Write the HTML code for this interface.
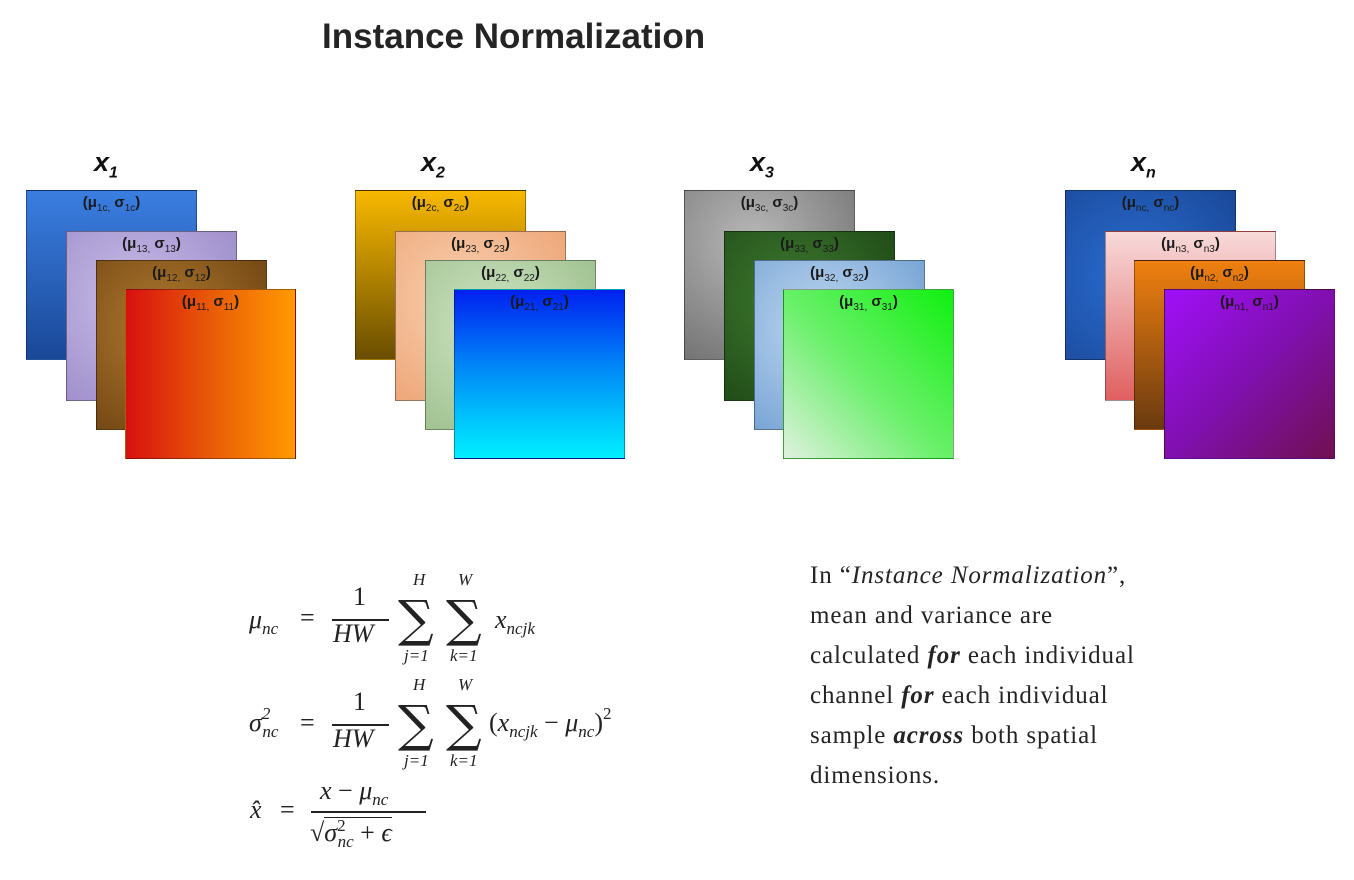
<!DOCTYPE html>
<html><head><meta charset="utf-8"><style>
body{margin:0;width:1354px;height:880px;background:#fff;position:relative;overflow:hidden;font-family:"Liberation Sans",sans-serif}
.a{position:absolute;white-space:nowrap}
.sq{position:absolute;width:171px;height:170px;box-sizing:border-box;border:1px solid rgba(0,0,0,.35)}
.lb{position:absolute;left:0;right:0;top:3px;text-align:center;font-weight:bold;font-size:15px;color:#1a1a1a;font-family:"Liberation Sans",sans-serif}
.lb sub{font-size:10px;font-weight:normal}
.xl{position:absolute;font-weight:bold;font-style:italic;font-size:27px;color:#111}
.xl sub{font-size:16px}
.m{position:absolute;font-family:"Liberation Serif",serif;font-size:26px;color:#222;white-space:nowrap}
.i{font-style:italic}
.s{font-size:17px}
.d{position:relative;top:6px}
.sig{position:absolute;font-family:"DejaVu Serif",serif;font-size:50px;color:#222;line-height:1}
.hr{position:absolute;height:1.5px;background:#222}
.txt{position:absolute;left:810px;font-family:"Liberation Serif",serif;font-size:25px;letter-spacing:0.9px;color:#242424;white-space:nowrap}
</style></head><body>
<div class="a" style="left:322px;top:17px;font-size:35px;font-weight:bold;color:#242424">Instance Normalization</div>

<!-- stack 1 -->
<div class="xl" style="left:94px;top:147px">x<sub>1</sub></div>
<div class="sq" style="left:26px;top:190px;background:linear-gradient(#3a7ee0,#1a4898)"><div class="lb">(μ<sub>1c,</sub> σ<sub>1c</sub>)</div></div>
<div class="sq" style="left:66px;top:231px;background:radial-gradient(circle at 40% 40%,#c8bce6,#9a88c8)"><div class="lb">(μ<sub>13,</sub> σ<sub>13</sub>)</div></div>
<div class="sq" style="left:96px;top:260px;background:radial-gradient(circle at 40% 40%,#b07a30,#6a4010)"><div class="lb">(μ<sub>12,</sub> σ<sub>12</sub>)</div></div>
<div class="sq" style="left:125px;top:289px;background:linear-gradient(90deg,#d81010,#e85a08,#ff9a00)"><div class="lb">(μ<sub>11,</sub> σ<sub>11</sub>)</div></div>

<!-- stack 2 -->
<div class="xl" style="left:421px;top:147px">x<sub>2</sub></div>
<div class="sq" style="left:355px;top:190px;background:linear-gradient(#f8b800,#6a4e00)"><div class="lb">(μ<sub>2c,</sub> σ<sub>2c</sub>)</div></div>
<div class="sq" style="left:395px;top:231px;background:radial-gradient(circle at 40% 40%,#f8d0b0,#eca070)"><div class="lb">(μ<sub>23,</sub> σ<sub>23</sub>)</div></div>
<div class="sq" style="left:425px;top:260px;background:radial-gradient(circle at 40% 40%,#d0e4c4,#98bc88)"><div class="lb">(μ<sub>22,</sub> σ<sub>22</sub>)</div></div>
<div class="sq" style="left:454px;top:289px;background:linear-gradient(#0020f0,#0090f8,#00f0ff)"><div class="lb">(μ<sub>21,</sub> σ<sub>21</sub>)</div></div>

<!-- stack 3 -->
<div class="xl" style="left:750px;top:147px">x<sub>3</sub></div>
<div class="sq" style="left:684px;top:190px;background:radial-gradient(circle at 40% 30%,#b8b8b8,#6a6a6a)"><div class="lb">(μ<sub>3c,</sub> σ<sub>3c</sub>)</div></div>
<div class="sq" style="left:724px;top:231px;background:radial-gradient(circle at 40% 40%,#3e7a30,#1c4414)"><div class="lb">(μ<sub>33,</sub> σ<sub>33</sub>)</div></div>
<div class="sq" style="left:754px;top:260px;background:radial-gradient(circle at 40% 40%,#c0d8f0,#6c9cd0)"><div class="lb">(μ<sub>32,</sub> σ<sub>32</sub>)</div></div>
<div class="sq" style="left:783px;top:289px;background:linear-gradient(45deg,#e0f0e0,#70f070 45%,#10f010)"><div class="lb">(μ<sub>31,</sub> σ<sub>31</sub>)</div></div>

<!-- stack n -->
<div class="xl" style="left:1131px;top:147px">x<sub>n</sub></div>
<div class="sq" style="left:1065px;top:190px;background:radial-gradient(circle at 40% 50%,#2a6cd0,#1a4898)"><div class="lb">(μ<sub>nc,</sub> σ<sub>nc</sub>)</div></div>
<div class="sq" style="left:1105px;top:231px;background:linear-gradient(#f8dada,#e06060)"><div class="lb">(μ<sub>n3,</sub> σ<sub>n3</sub>)</div></div>
<div class="sq" style="left:1134px;top:260px;background:linear-gradient(#f08010,#6a3a10)"><div class="lb">(μ<sub>n2,</sub> σ<sub>n2</sub>)</div></div>
<div class="sq" style="left:1164px;top:289px;background:linear-gradient(135deg,#a010f8,#8010b0 50%,#701050)"><div class="lb">(μ<sub>n1,</sub> σ<sub>n1</sub>)</div></div>

<!-- formula 1 -->
<div class="m i" style="left:249px;top:605px">μ<span class="s d">nc</span></div>
<div class="m" style="left:300px;top:603px">=</div>
<div class="m" style="left:353px;top:582px">1</div>
<div class="hr" style="left:332px;top:619px;width:57px"></div>
<div class="m i" style="left:333px;top:619px">HW</div>
<div class="m i s" style="left:413px;top:570px">H</div>
<div class="sig" style="left:398px;top:594px">∑</div>
<div class="m i s" style="left:404px;top:646px">j=1</div>
<div class="m i s" style="left:458px;top:570px">W</div>
<div class="sig" style="left:446px;top:594px">∑</div>
<div class="m i s" style="left:450px;top:646px">k=1</div>
<div class="m i" style="left:495px;top:605px">x<span class="s d">ncjk</span></div>

<!-- formula 2 -->
<div class="m i" style="left:249px;top:708px">σ<span class="s" style="position:relative;top:-12px">2</span><span class="s" style="margin-left:-8px;position:relative;top:6px">nc</span></div>
<div class="m" style="left:300px;top:708px">=</div>
<div class="m" style="left:353px;top:687px">1</div>
<div class="hr" style="left:332px;top:724px;width:57px"></div>
<div class="m i" style="left:333px;top:724px">HW</div>
<div class="m i s" style="left:413px;top:675px">H</div>
<div class="sig" style="left:398px;top:699px">∑</div>
<div class="m i s" style="left:404px;top:751px">j=1</div>
<div class="m i s" style="left:458px;top:675px">W</div>
<div class="sig" style="left:446px;top:699px">∑</div>
<div class="m i s" style="left:450px;top:751px">k=1</div>
<div class="m" style="left:489px;top:708px">(<i>x</i><i class="s d">ncjk</i> − <i>μ</i><i class="s d">nc</i>)<span class="s" style="position:relative;top:-12px">2</span></div>

<!-- formula 3 -->
<div class="m i" style="left:250px;top:795px">x̂</div>
<div class="m" style="left:280px;top:795px">=</div>
<div class="m" style="left:320px;top:776px"><i>x</i> − <i>μ</i><i class="s d">nc</i></div>
<div class="hr" style="left:311px;top:811px;width:115px"></div>
<div class="m" style="left:310px;top:818px">√<span style="border-top:1.5px solid #222"><i>σ</i><span class="s" style="position:relative;top:-10px">2</span><i class="s" style="margin-left:-8px;position:relative;top:6px">nc</i> + <i>ϵ</i></span></div>

<!-- text -->
<div class="txt" style="top:562px">In “<i>Instance Normalization</i>”,</div>
<div class="txt" style="top:602px">mean and variance are</div>
<div class="txt" style="top:642px">calculated <b><i>for</i></b> each individual</div>
<div class="txt" style="top:682px">channel <b><i>for</i></b> each individual</div>
<div class="txt" style="top:722px">sample <b><i>across</i></b> both spatial</div>
<div class="txt" style="top:762px">dimensions.</div>
</body></html>
